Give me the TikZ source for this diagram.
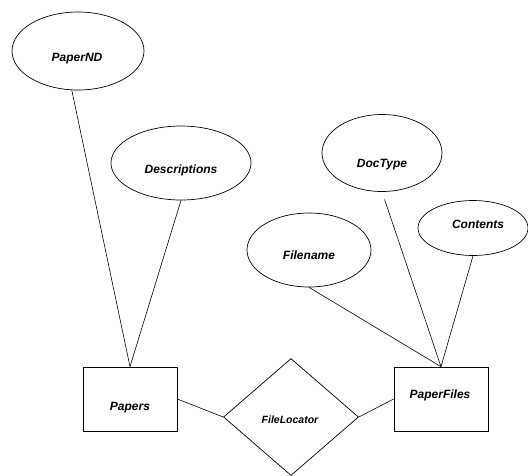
\documentclass[tikz,border=0pt]{standalone}
\usepackage{fontspec}
\setmainfont{Liberation Sans}
\usetikzlibrary{shapes.geometric}
\begin{document}
\begin{tikzpicture}[x=1pt,y=-1pt,
  line width=0.7pt,
  attr/.style={draw, ellipse, inner sep=0pt},
  ent/.style={draw, rectangle, inner sep=0pt, minimum width=94pt, minimum height=64pt},
  rel/.style={draw, diamond, inner sep=0pt, minimum width=135pt, minimum height=117pt},
  lbl/.style={anchor=base, inner sep=0pt, font=\fontsize{12}{14}\selectfont\bfseries\itshape},
  conn/.style={draw, line width=0.6pt}]
\useasboundingbox (0,0) rectangle (528,475);
% attributes
\node[attr, minimum width=132pt, minimum height=78pt] (pnd) at (78,51) {};
\node[attr, minimum width=140pt, minimum height=74pt] (desc) at (181,163) {};
\node[attr, minimum width=120pt, minimum height=77pt] (dt) at (382,153) {};
\node[attr, minimum width=110pt, minimum height=55pt] (ct) at (473,228) {};
\node[attr, minimum width=124pt, minimum height=74pt] (fn) at (309,250) {};
% entities and relationship
\node[ent] (papers) at (130,399) {};
\node[ent] (pf) at (441,399) {};
\node[rel] (fl) at (291,417) {};
% labels
\node[lbl] (pndl) at (77,61) {PaperND};
\node[lbl] (descl) at (181,173) {Descriptions};
\node[lbl] (dtl) at (382,167) {DocType};
\node[lbl] (ctl) at (478,228) {Contents};
\node[lbl] (fnl) at (309,259) {Filename};
\node[lbl] (papersl) at (130,410) {Papers};
\node[lbl] (pfl) at (440,398) {PaperFiles};
\node[lbl, font=\fontsize{10.5}{12}\selectfont\bfseries\itshape] (fll) at (290,423) {FileLocator};
% connectors
\draw[conn] (pnd.261) -- (papers.north);
\draw[conn] (desc.south) -- (papers.north);
\draw[conn] (papers.east) -- (fl.west);
\draw[conn] (fl.east) -- (pf.west);
\draw[conn] (fn.south) -- (pf.north);
\draw[conn, shorten <=8pt] (dt.south) -- (pf.north);
\draw[conn] (ct.south) -- (pf.north);
\end{tikzpicture}
\end{document}
